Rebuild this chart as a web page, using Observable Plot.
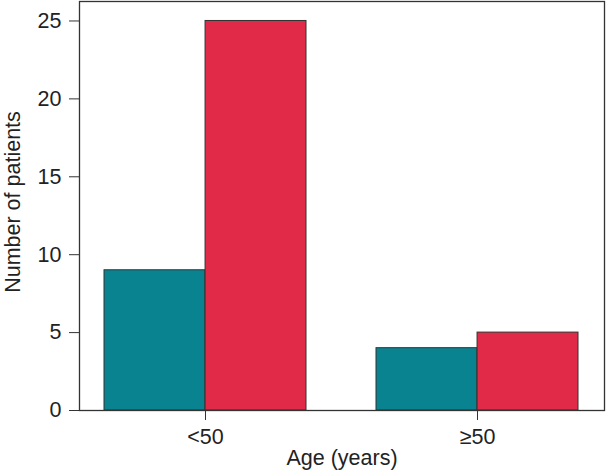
<!DOCTYPE html>
<html>
<head>
<meta charset="utf-8">
<script src="https://cdn.jsdelivr.net/npm/d3@7"></script>
<script src="https://cdn.jsdelivr.net/npm/@observablehq/plot@0.6"></script>
<style>
  html, body { margin: 0; padding: 0; background: #fff; }
</style>
</head>
<body>
<div id="chart"></div>
<script>
const ageGroups = ["<50", "≥50"];
const seriesNames = ["Series 1", "Series 2"];
const series1 = [9, 4];
const series2 = [25, 5];
const yTicks = [0, 5, 10, 15, 20, 25];
const colors = ["#0a8390", "#e02a48"];

const data = [];
ageGroups.forEach((a, i) => {
  data.push({age: a, series: seriesNames[0], value: series1[i]});
  data.push({age: a, series: seriesNames[1], value: series2[i]});
});

const W = 606, H = 476;
const mL = 79, mR = 2, mT = 1, mB = 66;
const pIn = 0.257, pOut = 0.0935;
const step = (W - mL - mR) / (ageGroups.length - pIn + 2 * pOut);
const bw = step * (1 - pIn);
const half = bw / 2;
const FS = 21.5;

const chart = Plot.plot({
  width: W,
  height: H,
  marginLeft: mL,
  marginRight: mR,
  marginTop: mT,
  marginBottom: mB,
  style: {fontFamily: "'Liberation Sans', Arial, sans-serif", fontSize: FS + "px", color: "#222", background: "#fff"},
  x: {domain: ageGroups, paddingInner: pIn, paddingOuter: pOut, label: null},
  y: {domain: [0, 26.25], label: null},
  marks: [
    Plot.barY(data.filter(d => d.series === seriesNames[0]), {x: "age", y: "value", fill: colors[0], stroke: "#333", strokeWidth: 1, insetRight: half}),
    Plot.barY(data.filter(d => d.series === seriesNames[1]), {x: "age", y: "value", fill: colors[1], stroke: "#333", strokeWidth: 1, insetLeft: half}),
    Plot.frame({stroke: "#333", strokeWidth: 1.3}),
    Plot.axisY({ticks: yTicks, tickSize: 10, tickPadding: 8, label: null, stroke: "#333", fontSize: FS}),
    Plot.axisX({tickSize: 10, tickPadding: 8, label: null, stroke: "#333", fontSize: FS}),
    Plot.text(["Age (years)"], {frameAnchor: "bottom", dy: 54, fontSize: FS, fill: "#222"}),
    Plot.text(["Number of patients"], {frameAnchor: "left", textAnchor: "middle", rotate: -90, dx: -66, dy: -4, fontSize: FS, fill: "#222"})
  ]
});
document.getElementById("chart").appendChild(chart);
</script>
</body>
</html>
